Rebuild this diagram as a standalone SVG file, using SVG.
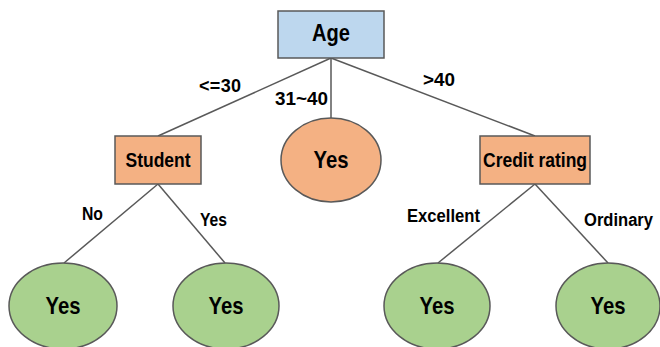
<svg xmlns="http://www.w3.org/2000/svg" width="660" height="347" viewBox="0 0 660 347">
<style>
.box{stroke:#595959;stroke-width:1.5}
.blue{fill:#bdd7ee}
.orange{fill:#f4b183}
.green{fill:#a9d18e}
.edge{stroke:#595959;stroke-width:1.5;fill:none}
text{font-family:"Liberation Sans",Arial,sans-serif;font-weight:bold;fill:#000}
.n{font-size:21px;text-anchor:middle}
.big{font-size:24px;text-anchor:middle}
.lbl{font-size:18px}
</style>
<rect width="660" height="347" fill="#fff"/>
<g id="connectors">
<line class="edge" x1="331" y1="58" x2="158" y2="136"/>
<line class="edge" x1="331" y1="58" x2="331" y2="118"/>
<line class="edge" x1="331" y1="58" x2="535" y2="136"/>
<line class="edge" x1="158" y1="184" x2="64" y2="263"/>
<line class="edge" x1="158" y1="184" x2="225" y2="263"/>
<line class="edge" x1="535" y1="184" x2="438" y2="263"/>
<line class="edge" x1="535" y1="184" x2="608" y2="263"/>
<text class="lbl" x="199" y="92" textLength="42" lengthAdjust="spacing">&lt;=30</text>
<text class="lbl" x="275" y="105" textLength="53" lengthAdjust="spacingAndGlyphs">31~40</text>
<text class="lbl" x="423" y="86" textLength="32" lengthAdjust="spacingAndGlyphs">&gt;40</text>
<text class="lbl" x="82" y="220" textLength="21" lengthAdjust="spacingAndGlyphs">No</text>
<text class="lbl" x="200" y="226" textLength="27" lengthAdjust="spacingAndGlyphs">Yes</text>
<text class="lbl" x="407" y="222" textLength="73" lengthAdjust="spacingAndGlyphs">Excellent</text>
<text class="lbl" x="584" y="226" textLength="69" lengthAdjust="spacingAndGlyphs">Ordinary</text>
</g>
<g id="age">
<rect class="box blue" x="278" y="11" width="106" height="47"/>
<text class="n" x="331" y="41" style="font-size:23px" textLength="38" lengthAdjust="spacingAndGlyphs">Age</text>
</g>
<g id="student">
<rect class="box orange" x="115" y="136" width="86" height="48"/>
<text class="n" x="158" y="167" textLength="65" lengthAdjust="spacingAndGlyphs">Student</text>
</g>
<g id="yes-mid">
<ellipse class="box orange" cx="331" cy="160" rx="50" ry="42"/>
<text class="big" x="331" y="168" textLength="35" lengthAdjust="spacingAndGlyphs">Yes</text>
</g>
<g id="credit">
<rect class="box orange" x="480" y="136" width="110" height="48"/>
<text class="n" x="535" y="167" textLength="104" lengthAdjust="spacingAndGlyphs">Credit rating</text>
</g>
<g id="yes1">
<ellipse class="box green" cx="63" cy="306" rx="54" ry="43"/>
<text class="big" x="63" y="314" textLength="35" lengthAdjust="spacingAndGlyphs">Yes</text>
</g>
<g id="yes2">
<ellipse class="box green" cx="226" cy="306" rx="53" ry="43"/>
<text class="big" x="226" y="314" textLength="35" lengthAdjust="spacingAndGlyphs">Yes</text>
</g>
<g id="yes3">
<ellipse class="box green" cx="437" cy="306" rx="53" ry="43"/>
<text class="big" x="437" y="314" textLength="35" lengthAdjust="spacingAndGlyphs">Yes</text>
</g>
<g id="yes4">
<ellipse class="box green" cx="608" cy="306" rx="52" ry="43"/>
<text class="big" x="608" y="314" textLength="35" lengthAdjust="spacingAndGlyphs">Yes</text>
</g>
</svg>
